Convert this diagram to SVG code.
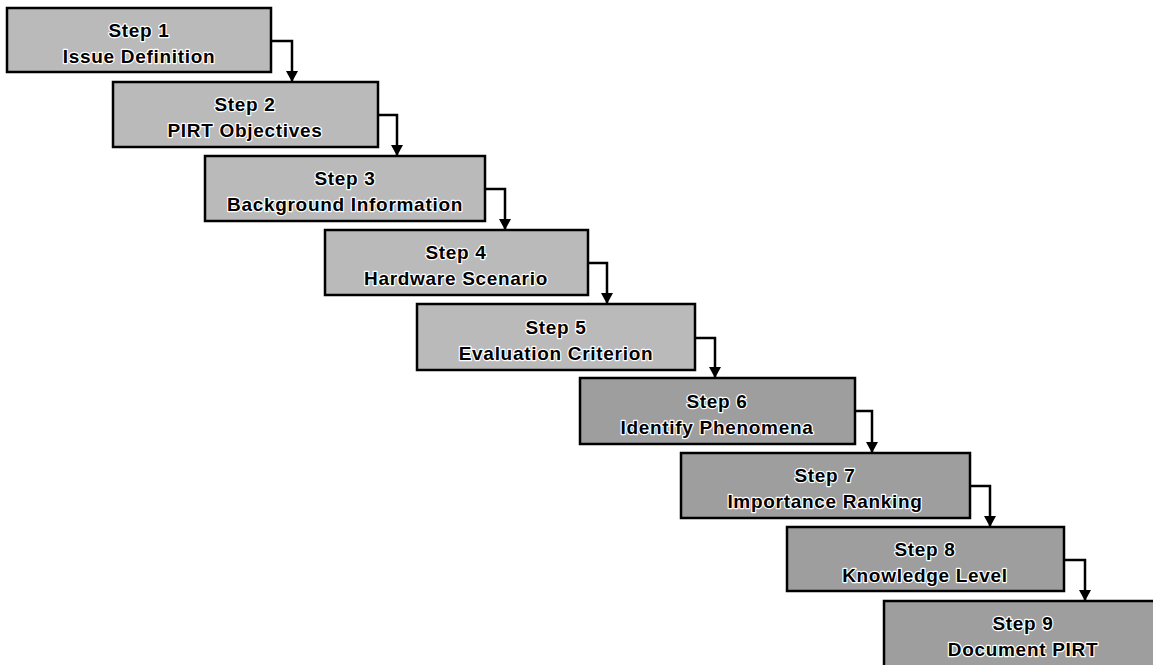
<svg xmlns="http://www.w3.org/2000/svg" width="1153" height="665" viewBox="0 0 1153 665">
<defs>
<style>
.box{stroke:#000;stroke-width:2.5}
.lt{fill:#bababa}
.dk{fill:#9e9e9e}
.t{font-family:"Liberation Sans",Arial,sans-serif;font-weight:bold;font-size:19px;letter-spacing:0.7px;text-anchor:middle;fill:#000;stroke:#fff;stroke-width:2.4px;paint-order:stroke;stroke-linejoin:round}
.c{fill:none;stroke:#000;stroke-width:2.5}
</style>
<marker id="ah" markerWidth="12" markerHeight="12" refX="10" refY="6" orient="auto" markerUnits="userSpaceOnUse">
<path d="M0,0 L11,6 L0,12 Z" fill="#000"/>
</marker>
</defs>
<rect width="1153" height="665" fill="#fff"/>
<g id="connectors">
<path class="c" d="M271,41 H292 V81" marker-end="url(#ah)"/>
<path class="c" d="M378,115 H397 V155" marker-end="url(#ah)"/>
<path class="c" d="M485,189 H505 V229" marker-end="url(#ah)"/>
<path class="c" d="M588,263 H607 V303" marker-end="url(#ah)"/>
<path class="c" d="M695,338 H715 V377" marker-end="url(#ah)"/>
<path class="c" d="M855,411 H872 V452" marker-end="url(#ah)"/>
<path class="c" d="M970,486 H990 V526" marker-end="url(#ah)"/>
<path class="c" d="M1064,560 H1085 V600" marker-end="url(#ah)"/>
</g>
<g id="step1"><rect class="box lt" x="7" y="8" width="264" height="64"/><text class="t" x="139" y="37">Step 1</text><text class="t" x="139" y="63">Issue Definition</text></g>
<g id="step2"><rect class="box lt" x="113" y="82" width="265" height="65"/><text class="t" x="245" y="111">Step 2</text><text class="t" x="245" y="137">PIRT Objectives</text></g>
<g id="step3"><rect class="box lt" x="205" y="156" width="280" height="65"/><text class="t" x="345" y="185">Step 3</text><text class="t" x="345" y="211">Background Information</text></g>
<g id="step4"><rect class="box lt" x="325" y="230" width="263" height="65"/><text class="t" x="456" y="259">Step 4</text><text class="t" x="456" y="285">Hardware Scenario</text></g>
<g id="step5"><rect class="box lt" x="417" y="304" width="278" height="66"/><text class="t" x="556" y="334">Step 5</text><text class="t" x="556" y="360">Evaluation Criterion</text></g>
<g id="step6"><rect class="box dk" x="580" y="378" width="275" height="66"/><text class="t" x="717" y="408">Step 6</text><text class="t" x="717" y="434">Identify Phenomena</text></g>
<g id="step7"><rect class="box dk" x="681" y="453" width="289" height="65"/><text class="t" x="825" y="482">Step 7</text><text class="t" x="825" y="508">Importance Ranking</text></g>
<g id="step8"><rect class="box dk" x="787" y="527" width="277" height="64"/><text class="t" x="925" y="556">Step 8</text><text class="t" x="925" y="582">Knowledge Level</text></g>
<g id="step9"><rect class="box dk" x="884" y="601" width="278" height="66"/><text class="t" x="1023" y="630">Step 9</text><text class="t" x="1023" y="656">Document PIRT</text></g>
</svg>
